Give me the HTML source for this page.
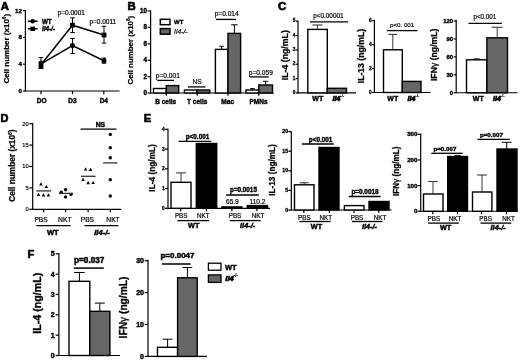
<!DOCTYPE html>
<html><head><meta charset="utf-8"><style>
html,body{margin:0;padding:0;background:#fff;}
svg{display:block;will-change:transform;}
text{font-family:"Liberation Sans", sans-serif;fill:#000;}
</style></head><body>
<svg width="520" height="361" viewBox="0 0 520 361">
<rect width="520" height="361" fill="#fff"/>
<text x="4.9" y="9.78" font-size="11.4" font-weight="bold" stroke="#000" stroke-width="0.68" text-anchor="middle">A</text>
<text transform="translate(8.6,48.7) rotate(-90)" font-size="8" font-weight="bold" stroke="#000" stroke-width="0.24" text-anchor="middle">Cell number (x10<tspan font-size="0.6em" dy="-0.55em">6</tspan><tspan dy="0.33em">)</tspan></text>
<line x1="25.4" y1="10" x2="25.4" y2="91.6" stroke="#000" stroke-width="1.2"/>
<line x1="23" y1="10.6" x2="25.4" y2="10.6" stroke="#000" stroke-width="1.2"/>
<text x="21.9" y="12.52" font-size="6.2" font-weight="bold" stroke="#000" stroke-width="0.37" text-anchor="end">12</text>
<line x1="23" y1="37.4" x2="25.4" y2="37.4" stroke="#000" stroke-width="1.2"/>
<text x="21.9" y="39.32" font-size="6.2" font-weight="bold" stroke="#000" stroke-width="0.37" text-anchor="end">8</text>
<line x1="23" y1="64.2" x2="25.4" y2="64.2" stroke="#000" stroke-width="1.2"/>
<text x="21.9" y="66.12" font-size="6.2" font-weight="bold" stroke="#000" stroke-width="0.37" text-anchor="end">4</text>
<line x1="23" y1="91" x2="25.4" y2="91" stroke="#000" stroke-width="1.2"/>
<text x="21.9" y="92.92" font-size="6.2" font-weight="bold" stroke="#000" stroke-width="0.37" text-anchor="end">0</text>
<line x1="24.8" y1="91" x2="119.6" y2="91" stroke="#000" stroke-width="1.2"/>
<line x1="41" y1="91" x2="41" y2="94.2" stroke="#000" stroke-width="1.2"/>
<line x1="72.5" y1="91" x2="72.5" y2="94.2" stroke="#000" stroke-width="1.2"/>
<line x1="103.8" y1="91" x2="103.8" y2="94.2" stroke="#000" stroke-width="1.2"/>
<text x="41.6" y="103.43" font-size="6.5" font-weight="bold" stroke="#000" stroke-width="0.39" text-anchor="middle">DO</text>
<text x="72.5" y="103.43" font-size="6.5" font-weight="bold" stroke="#000" stroke-width="0.39" text-anchor="middle">D3</text>
<text x="103.8" y="103.43" font-size="6.5" font-weight="bold" stroke="#000" stroke-width="0.39" text-anchor="middle">D4</text>
<line x1="27.8" y1="21.2" x2="37.6" y2="21.2" stroke="#000" stroke-width="1.5"/>
<circle cx="32.7" cy="21.2" r="2.3" fill="#000"/>
<line x1="27.8" y1="28.8" x2="37.6" y2="28.8" stroke="#000" stroke-width="1.5"/>
<rect x="30.4" y="26.6" width="4.6" height="4.4" fill="#000"/>
<text x="41.9" y="23.66" font-size="6.3" font-weight="bold" stroke="#000" stroke-width="0.38" text-anchor="start">WT</text>
<text x="41.9" y="30.89" font-size="6.4" font-weight="bold" stroke="#000" stroke-width="0.38" font-style="italic" text-anchor="start">Il4-/-</text>
<polyline points="41,63.8 72.5,45.6 104,60.8" fill="none" stroke="#000" stroke-width="1.5"/>
<polyline points="41,64.8 72.5,25.2 104,35" fill="none" stroke="#000" stroke-width="1.5"/>
<line x1="41" y1="57.6" x2="41" y2="68.5" stroke="#000" stroke-width="1"/>
<line x1="38.7" y1="57.6" x2="43.3" y2="57.6" stroke="#000" stroke-width="1"/>
<line x1="38.7" y1="68.5" x2="43.3" y2="68.5" stroke="#000" stroke-width="1"/>
<line x1="72.5" y1="17.8" x2="72.5" y2="32.6" stroke="#000" stroke-width="1"/>
<line x1="70.2" y1="17.8" x2="74.8" y2="17.8" stroke="#000" stroke-width="1"/>
<line x1="70.2" y1="32.6" x2="74.8" y2="32.6" stroke="#000" stroke-width="1"/>
<line x1="72.5" y1="38.5" x2="72.5" y2="53.5" stroke="#000" stroke-width="1"/>
<line x1="70.2" y1="38.5" x2="74.8" y2="38.5" stroke="#000" stroke-width="1"/>
<line x1="70.2" y1="53.5" x2="74.8" y2="53.5" stroke="#000" stroke-width="1"/>
<line x1="104" y1="26.3" x2="104" y2="43.1" stroke="#000" stroke-width="1"/>
<line x1="101.7" y1="26.3" x2="106.3" y2="26.3" stroke="#000" stroke-width="1"/>
<line x1="101.7" y1="43.1" x2="106.3" y2="43.1" stroke="#000" stroke-width="1"/>
<line x1="104" y1="58" x2="104" y2="63.2" stroke="#000" stroke-width="1"/>
<line x1="101.7" y1="58" x2="106.3" y2="58" stroke="#000" stroke-width="1"/>
<line x1="101.7" y1="63.2" x2="106.3" y2="63.2" stroke="#000" stroke-width="1"/>
<circle cx="41" cy="63.1" r="2.5" fill="#000"/>
<circle cx="72.5" cy="45.6" r="2.5" fill="#000"/>
<circle cx="104" cy="60.8" r="2.5" fill="#000"/>
<rect x="38.6" y="63.8" width="4.8" height="4.8" fill="#000"/>
<rect x="70.1" y="22.8" width="4.8" height="4.8" fill="#000"/>
<rect x="101.6" y="32.6" width="4.8" height="4.8" fill="#000"/>
<text x="71.3" y="15.23" font-size="6.5" stroke="#000" stroke-width="0.2" text-anchor="middle">p=0.0001</text>
<text x="102.8" y="24.03" font-size="6.5" stroke="#000" stroke-width="0.2" text-anchor="middle">p=0.0011</text>
<text x="131.6" y="9.78" font-size="11.4" font-weight="bold" stroke="#000" stroke-width="0.68" text-anchor="middle">B</text>
<text transform="translate(133,50.2) rotate(-90)" font-size="7.88" font-weight="bold" stroke="#000" stroke-width="0.24" text-anchor="middle">Cell number (x10<tspan font-size="0.6em" dy="-0.55em">6</tspan><tspan dy="0.33em">)</tspan></text>
<line x1="150.6" y1="10.2" x2="150.6" y2="93.6" stroke="#000" stroke-width="1.2"/>
<line x1="147.6" y1="11" x2="150.6" y2="11" stroke="#000" stroke-width="1.2"/>
<text x="147" y="12.96" font-size="6.3" font-weight="bold" stroke="#000" stroke-width="0.38" text-anchor="end">10</text>
<line x1="147.6" y1="27.4" x2="150.6" y2="27.4" stroke="#000" stroke-width="1.2"/>
<text x="147" y="29.36" font-size="6.3" font-weight="bold" stroke="#000" stroke-width="0.38" text-anchor="end">8</text>
<line x1="147.6" y1="43.8" x2="150.6" y2="43.8" stroke="#000" stroke-width="1.2"/>
<text x="147" y="45.76" font-size="6.3" font-weight="bold" stroke="#000" stroke-width="0.38" text-anchor="end">6</text>
<line x1="147.6" y1="60.2" x2="150.6" y2="60.2" stroke="#000" stroke-width="1.2"/>
<text x="147" y="62.16" font-size="6.3" font-weight="bold" stroke="#000" stroke-width="0.38" text-anchor="end">4</text>
<line x1="147.6" y1="76.6" x2="150.6" y2="76.6" stroke="#000" stroke-width="1.2"/>
<text x="147" y="78.56" font-size="6.3" font-weight="bold" stroke="#000" stroke-width="0.38" text-anchor="end">2</text>
<line x1="147.6" y1="93" x2="150.6" y2="93" stroke="#000" stroke-width="1.2"/>
<text x="147" y="94.96" font-size="6.3" font-weight="bold" stroke="#000" stroke-width="0.38" text-anchor="end">0</text>
<line x1="150" y1="93" x2="274" y2="93" stroke="#000" stroke-width="1.2"/>
<line x1="166.3" y1="93" x2="166.3" y2="95.8" stroke="#000" stroke-width="1.2"/>
<line x1="197.2" y1="93" x2="197.2" y2="95.8" stroke="#000" stroke-width="1.2"/>
<line x1="228" y1="93" x2="228" y2="95.8" stroke="#000" stroke-width="1.2"/>
<line x1="258.8" y1="93" x2="258.8" y2="95.8" stroke="#000" stroke-width="1.2"/>
<rect x="153.5" y="88.5" width="12.8" height="4.5" fill="#fff" stroke="#000" stroke-width="1.4"/>
<rect x="166.3" y="85.6" width="12.4" height="7.4" fill="#666" stroke="#000" stroke-width="1.4"/>
<rect x="184.4" y="90" width="12.5" height="3" fill="#fff" stroke="#000" stroke-width="1.4"/>
<rect x="196.9" y="90" width="12.8" height="3" fill="#666" stroke="#000" stroke-width="1.4"/>
<line x1="221.6" y1="49.4" x2="221.6" y2="46.3" stroke="#000" stroke-width="1"/>
<line x1="219.35" y1="46.3" x2="223.85" y2="46.3" stroke="#000" stroke-width="1"/>
<line x1="234.4" y1="33.4" x2="234.4" y2="24.8" stroke="#000" stroke-width="1"/>
<line x1="231.15" y1="24.8" x2="237.65" y2="24.8" stroke="#000" stroke-width="1"/>
<rect x="215.4" y="49.4" width="12.6" height="43.6" fill="#fff" stroke="#000" stroke-width="1.4"/>
<rect x="228" y="33.4" width="12.6" height="59.6" fill="#666" stroke="#000" stroke-width="1.4"/>
<line x1="252.4" y1="90" x2="252.4" y2="88.6" stroke="#000" stroke-width="1"/>
<line x1="250.15" y1="88.6" x2="254.65" y2="88.6" stroke="#000" stroke-width="1"/>
<line x1="265.6" y1="85" x2="265.6" y2="81.3" stroke="#000" stroke-width="1"/>
<line x1="262.85" y1="81.3" x2="268.35" y2="81.3" stroke="#000" stroke-width="1"/>
<rect x="246" y="90" width="12.8" height="3" fill="#fff" stroke="#000" stroke-width="1.4"/>
<rect x="258.8" y="85" width="13.7" height="8" fill="#666" stroke="#000" stroke-width="1.4"/>
<text x="165.7" y="103.73" font-size="6.5" font-weight="bold" stroke="#000" stroke-width="0.39" text-anchor="middle">B cells</text>
<text x="197.2" y="103.73" font-size="6.5" font-weight="bold" stroke="#000" stroke-width="0.39" text-anchor="middle">T cells</text>
<text x="227.7" y="103.73" font-size="6.5" font-weight="bold" stroke="#000" stroke-width="0.39" text-anchor="middle">Mac</text>
<text x="258.5" y="103.73" font-size="6.5" font-weight="bold" stroke="#000" stroke-width="0.39" text-anchor="middle">PMNs</text>
<text x="167.8" y="77.76" font-size="6.6" stroke="#000" stroke-width="0.2" text-anchor="middle">p=0.001</text>
<line x1="157.3" y1="80.4" x2="174" y2="80.4" stroke="#000" stroke-width="1.3"/>
<text x="197.2" y="84.26" font-size="6.6" stroke="#000" stroke-width="0.2" text-anchor="middle">NS</text>
<line x1="188" y1="86.9" x2="205.4" y2="86.9" stroke="#000" stroke-width="1.3"/>
<text x="226.7" y="15.86" font-size="6.6" stroke="#000" stroke-width="0.2" text-anchor="middle">p=0.014</text>
<line x1="216" y1="19.4" x2="236" y2="19.4" stroke="#000" stroke-width="1.3"/>
<text x="260.8" y="74.86" font-size="6.6" stroke="#000" stroke-width="0.2" text-anchor="middle">p=0.059</text>
<line x1="250" y1="76.9" x2="268.8" y2="76.9" stroke="#000" stroke-width="1.3"/>
<rect x="160.3" y="19.3" width="9.7" height="5.4" fill="#fff" stroke="#000" stroke-width="1.5"/>
<rect x="160.3" y="28.6" width="9.7" height="5.6" fill="#666" stroke="#000" stroke-width="1.5"/>
<text x="174" y="24.05" font-size="6" font-weight="bold" stroke="#000" stroke-width="0.36" text-anchor="start">WT</text>
<text x="174" y="33.83" font-size="6.8" stroke="#000" stroke-width="0.2" font-style="italic" text-anchor="start">Il4-/-</text>
<text x="282" y="9.98" font-size="11.4" font-weight="bold" stroke="#000" stroke-width="0.68" text-anchor="middle">C</text>
<text transform="translate(288.2,55.2) rotate(-90)" font-size="8.75" font-weight="bold" stroke="#000" stroke-width="0.26" text-anchor="middle">IL-4 (ng/mL)</text>
<line x1="298" y1="20.6" x2="298" y2="93.5" stroke="#000" stroke-width="1.2"/>
<line x1="295.8" y1="21.2" x2="298" y2="21.2" stroke="#000" stroke-width="1.2"/>
<text x="295.3" y="22.42" font-size="4.8" font-weight="bold" stroke="#000" stroke-width="0.29" text-anchor="end">5</text>
<line x1="295.8" y1="35.54" x2="298" y2="35.54" stroke="#000" stroke-width="1.2"/>
<text x="295.3" y="36.76" font-size="4.8" font-weight="bold" stroke="#000" stroke-width="0.29" text-anchor="end">4</text>
<line x1="295.8" y1="49.88" x2="298" y2="49.88" stroke="#000" stroke-width="1.2"/>
<text x="295.3" y="51.1" font-size="4.8" font-weight="bold" stroke="#000" stroke-width="0.29" text-anchor="end">3</text>
<line x1="295.8" y1="64.22" x2="298" y2="64.22" stroke="#000" stroke-width="1.2"/>
<text x="295.3" y="65.44" font-size="4.8" font-weight="bold" stroke="#000" stroke-width="0.29" text-anchor="end">2</text>
<line x1="295.8" y1="78.56" x2="298" y2="78.56" stroke="#000" stroke-width="1.2"/>
<text x="295.3" y="79.78" font-size="4.8" font-weight="bold" stroke="#000" stroke-width="0.29" text-anchor="end">1</text>
<line x1="295.8" y1="92.9" x2="298" y2="92.9" stroke="#000" stroke-width="1.2"/>
<text x="295.3" y="94.12" font-size="4.8" font-weight="bold" stroke="#000" stroke-width="0.29" text-anchor="end">0</text>
<line x1="297.4" y1="92.9" x2="356" y2="92.9" stroke="#000" stroke-width="1.2"/>
<line x1="317.5" y1="29.4" x2="317.5" y2="25" stroke="#4a4a4a" stroke-width="1.1"/>
<line x1="312.5" y1="25" x2="322.5" y2="25" stroke="#3a3a3a" stroke-width="1.1"/>
<rect x="307.8" y="29.4" width="19.5" height="63.5" fill="#fff" stroke="#000" stroke-width="1.4"/>
<rect x="327.3" y="88.3" width="19.2" height="4.6" fill="#666" stroke="#000" stroke-width="1.4"/>
<text x="328.4" y="18.29" font-size="6.4" stroke="#000" stroke-width="0.19" text-anchor="middle">p&lt;0.00001</text>
<line x1="310" y1="21.9" x2="348.1" y2="21.9" stroke="#000" stroke-width="1.3"/>
<text x="317.8" y="101.11" font-size="7" font-weight="bold" stroke="#000" stroke-width="0.42" text-anchor="middle">WT</text>
<text x="332.5" y="101.11" font-size="7" font-weight="bold" stroke="#000" stroke-width="0.42" text-anchor="start"><tspan font-style="italic" stroke-width="0.7">Il4</tspan><tspan font-size="0.6em" dy="-0.9em" stroke-width="0.2" fill="#222" stroke="#222">-/-</tspan></text>
<text transform="translate(363.8,56.1) rotate(-90)" font-size="8.67" font-weight="bold" stroke="#000" stroke-width="0.26" text-anchor="middle">IL-13 (ng/mL)</text>
<line x1="374.4" y1="19.8" x2="374.4" y2="93.1" stroke="#000" stroke-width="1.2"/>
<line x1="372.2" y1="20.62" x2="374.4" y2="20.62" stroke="#000" stroke-width="1.2"/>
<text x="371.7" y="21.84" font-size="4.8" font-weight="bold" stroke="#000" stroke-width="0.29" text-anchor="end">6</text>
<line x1="372.2" y1="44.58" x2="374.4" y2="44.58" stroke="#000" stroke-width="1.2"/>
<text x="371.7" y="45.8" font-size="4.8" font-weight="bold" stroke="#000" stroke-width="0.29" text-anchor="end">4</text>
<line x1="372.2" y1="68.54" x2="374.4" y2="68.54" stroke="#000" stroke-width="1.2"/>
<text x="371.7" y="69.76" font-size="4.8" font-weight="bold" stroke="#000" stroke-width="0.29" text-anchor="end">2</text>
<line x1="372.2" y1="92.5" x2="374.4" y2="92.5" stroke="#000" stroke-width="1.2"/>
<text x="371.7" y="93.72" font-size="4.8" font-weight="bold" stroke="#000" stroke-width="0.29" text-anchor="end">0</text>
<line x1="373.8" y1="92.5" x2="430.6" y2="92.5" stroke="#000" stroke-width="1.2"/>
<line x1="392.8" y1="49.8" x2="392.8" y2="34.4" stroke="#4a4a4a" stroke-width="1.1"/>
<line x1="388.4" y1="34.4" x2="397.2" y2="34.4" stroke="#3a3a3a" stroke-width="1.1"/>
<rect x="383.5" y="49.8" width="18.8" height="42.7" fill="#fff" stroke="#000" stroke-width="1.4"/>
<rect x="402.3" y="81.4" width="18.7" height="11.1" fill="#666" stroke="#000" stroke-width="1.4"/>
<text x="402.1" y="27.12" font-size="6.2" stroke="#000" stroke-width="0.19" text-anchor="middle">p&lt;0. 001</text>
<line x1="386.9" y1="30.6" x2="417.5" y2="30.6" stroke="#000" stroke-width="1.3"/>
<text x="392.8" y="100.91" font-size="7" font-weight="bold" stroke="#000" stroke-width="0.42" text-anchor="middle">WT</text>
<text x="407.5" y="100.91" font-size="7" font-weight="bold" stroke="#000" stroke-width="0.42" text-anchor="start"><tspan font-style="italic" stroke-width="0.7">Il4</tspan><tspan font-size="0.6em" dy="-0.9em" stroke-width="0.2" fill="#222" stroke="#222">-/-</tspan></text>
<text transform="translate(436.7,54.8) rotate(-90)" font-size="8.68" font-weight="bold" stroke="#000" stroke-width="0.26" text-anchor="middle">IFN<tspan font-weight="normal">&#947;</tspan> (ng/mL)</text>
<line x1="456.2" y1="19.8" x2="456.2" y2="93.35" stroke="#000" stroke-width="1.2"/>
<line x1="453.7" y1="20.99" x2="456.2" y2="20.99" stroke="#000" stroke-width="1.2"/>
<text x="453.2" y="22.84" font-size="6" font-weight="bold" stroke="#000" stroke-width="0.36" text-anchor="end">120</text>
<line x1="453.7" y1="38.93" x2="456.2" y2="38.93" stroke="#000" stroke-width="1.2"/>
<text x="453.2" y="40.78" font-size="6" font-weight="bold" stroke="#000" stroke-width="0.36" text-anchor="end">90</text>
<line x1="453.7" y1="56.87" x2="456.2" y2="56.87" stroke="#000" stroke-width="1.2"/>
<text x="453.2" y="58.72" font-size="6" font-weight="bold" stroke="#000" stroke-width="0.36" text-anchor="end">60</text>
<line x1="453.7" y1="74.81" x2="456.2" y2="74.81" stroke="#000" stroke-width="1.2"/>
<text x="453.2" y="76.66" font-size="6" font-weight="bold" stroke="#000" stroke-width="0.36" text-anchor="end">30</text>
<line x1="453.7" y1="92.75" x2="456.2" y2="92.75" stroke="#000" stroke-width="1.2"/>
<text x="453.2" y="94.6" font-size="6" font-weight="bold" stroke="#000" stroke-width="0.36" text-anchor="end">0</text>
<line x1="455.6" y1="92.75" x2="517.5" y2="92.75" stroke="#000" stroke-width="1.2"/>
<line x1="476.7" y1="59.8" x2="476.7" y2="58.8" stroke="#4a4a4a" stroke-width="1.1"/>
<line x1="473.7" y1="58.8" x2="479.7" y2="58.8" stroke="#3a3a3a" stroke-width="1.1"/>
<line x1="497.2" y1="37.8" x2="497.2" y2="27.3" stroke="#4a4a4a" stroke-width="1.1"/>
<line x1="491.7" y1="27.3" x2="502.7" y2="27.3" stroke="#3a3a3a" stroke-width="1.1"/>
<rect x="466.5" y="59.8" width="20.4" height="32.95" fill="#fff" stroke="#000" stroke-width="1.4"/>
<rect x="486.9" y="37.8" width="20.6" height="54.95" fill="#666" stroke="#000" stroke-width="1.4"/>
<text x="484.9" y="19.26" font-size="6.3" stroke="#000" stroke-width="0.19" text-anchor="middle">p&lt;0.001</text>
<line x1="468.5" y1="23.4" x2="501.9" y2="23.4" stroke="#000" stroke-width="1.3"/>
<text x="478.3" y="100.91" font-size="7" font-weight="bold" stroke="#000" stroke-width="0.42" text-anchor="middle">WT</text>
<text x="493" y="100.91" font-size="7" font-weight="bold" stroke="#000" stroke-width="0.42" text-anchor="start"><tspan font-style="italic" stroke-width="0.7">Il4</tspan><tspan font-size="0.6em" dy="-0.9em" stroke-width="0.2" fill="#222" stroke="#222">-/-</tspan></text>
<text x="4.6" y="122.04" font-size="11" font-weight="bold" stroke="#000" stroke-width="0.66" text-anchor="middle">D</text>
<text transform="translate(14.6,165.6) rotate(-90)" font-size="8.3" font-weight="bold" stroke="#000" stroke-width="0.25" text-anchor="middle">Cell number (x10<tspan font-size="0.6em" dy="-0.55em">6</tspan><tspan dy="0.33em">)</tspan></text>
<line x1="32.7" y1="123.1" x2="32.7" y2="209.9" stroke="#000" stroke-width="1.2"/>
<line x1="29.3" y1="123.7" x2="32.7" y2="123.7" stroke="#000" stroke-width="1.2"/>
<text x="28.7" y="125.54" font-size="5.7" stroke="#000" stroke-width="0.17" text-anchor="end">20</text>
<line x1="29.3" y1="145.1" x2="32.7" y2="145.1" stroke="#000" stroke-width="1.2"/>
<text x="28.7" y="146.94" font-size="5.7" stroke="#000" stroke-width="0.17" text-anchor="end">15</text>
<line x1="29.3" y1="166.5" x2="32.7" y2="166.5" stroke="#000" stroke-width="1.2"/>
<text x="28.7" y="168.34" font-size="5.7" stroke="#000" stroke-width="0.17" text-anchor="end">10</text>
<line x1="29.3" y1="187.9" x2="32.7" y2="187.9" stroke="#000" stroke-width="1.2"/>
<text x="28.7" y="189.74" font-size="5.7" stroke="#000" stroke-width="0.17" text-anchor="end">5</text>
<line x1="29.3" y1="209.3" x2="32.7" y2="209.3" stroke="#000" stroke-width="1.2"/>
<text x="28.7" y="211.14" font-size="5.7" stroke="#000" stroke-width="0.17" text-anchor="end">0</text>
<line x1="32.1" y1="209.3" x2="121.3" y2="209.3" stroke="#000" stroke-width="1.2"/>
<line x1="43.7" y1="209.3" x2="43.7" y2="212.3" stroke="#000" stroke-width="1.2"/>
<line x1="65.6" y1="209.3" x2="65.6" y2="212.3" stroke="#000" stroke-width="1.2"/>
<line x1="88.1" y1="209.3" x2="88.1" y2="212.3" stroke="#000" stroke-width="1.2"/>
<line x1="110.3" y1="209.3" x2="110.3" y2="212.3" stroke="#000" stroke-width="1.2"/>
<text x="41.1" y="222.2" font-size="6.7" stroke="#000" stroke-width="0.2" text-anchor="middle">PBS</text>
<text x="64.8" y="222.2" font-size="6.7" stroke="#000" stroke-width="0.2" text-anchor="middle">NKT</text>
<text x="87.4" y="222.2" font-size="6.7" stroke="#000" stroke-width="0.2" text-anchor="middle">PBS</text>
<text x="113" y="222.2" font-size="6.7" stroke="#000" stroke-width="0.2" text-anchor="middle">NKT</text>
<line x1="36.3" y1="225.6" x2="70.6" y2="225.6" stroke="#000" stroke-width="1.3"/>
<line x1="84.4" y1="225.6" x2="118.5" y2="225.6" stroke="#000" stroke-width="1.3"/>
<text x="52.8" y="234.92" font-size="7.6" font-weight="bold" stroke="#000" stroke-width="0.46" text-anchor="middle">WT</text>
<text x="102" y="234.92" font-size="7.6" font-weight="bold" stroke="#000" stroke-width="0.46" font-style="italic" text-anchor="middle">Il4-/-</text>
<text x="100.4" y="126.83" font-size="6.8" font-weight="bold" stroke="#000" stroke-width="0.41" text-anchor="middle">NS</text>
<line x1="80.6" y1="129.1" x2="116.5" y2="129.1" stroke="#000" stroke-width="1.3"/>
<polygon points="41,182.18 39.2,185.42 42.8,185.42" fill="#000"/>
<polygon points="46.3,184.88 44.5,188.12 48.1,188.12" fill="#000"/>
<polygon points="38.5,192.78 36.7,196.02 40.3,196.02" fill="#000"/>
<polygon points="43.5,193.18 41.7,196.42 45.3,196.42" fill="#000"/>
<polygon points="48.5,193.18 46.7,196.42 50.3,196.42" fill="#000"/>
<line x1="36.3" y1="190.9" x2="51" y2="190.9" stroke="#333" stroke-width="1.3"/>
<circle cx="61.3" cy="192.3" r="1.7" fill="#000"/>
<circle cx="65.6" cy="189.8" r="1.7" fill="#000"/>
<circle cx="71" cy="194.4" r="1.7" fill="#000"/>
<circle cx="65.6" cy="196.9" r="1.7" fill="#000"/>
<line x1="58.8" y1="193.4" x2="73.1" y2="193.4" stroke="#333" stroke-width="1.3"/>
<polygon points="85.6,167.18 83.8,170.42 87.4,170.42" fill="#000"/>
<polygon points="90.6,167.78 88.8,171.02 92.4,171.02" fill="#000"/>
<polygon points="83.1,177.78 81.3,181.02 84.9,181.02" fill="#000"/>
<polygon points="88.1,181.08 86.3,184.32 89.9,184.32" fill="#000"/>
<polygon points="93.1,180.88 91.3,184.12 94.9,184.12" fill="#000"/>
<line x1="81" y1="176.3" x2="95.6" y2="176.3" stroke="#333" stroke-width="1.3"/>
<circle cx="110.3" cy="134.4" r="1.7" fill="#000"/>
<circle cx="110.3" cy="147.8" r="1.7" fill="#000"/>
<circle cx="110.3" cy="157.8" r="1.7" fill="#000"/>
<circle cx="110.3" cy="179.8" r="1.7" fill="#000"/>
<circle cx="110.3" cy="196" r="1.7" fill="#000"/>
<line x1="103.1" y1="162.9" x2="117.5" y2="162.9" stroke="#333" stroke-width="1.3"/>
<text x="147.6" y="122.31" font-size="11.2" font-weight="bold" stroke="#000" stroke-width="0.67" text-anchor="middle">E</text>
<text transform="translate(155,167.9) rotate(-90)" font-size="8.3" font-weight="bold" stroke="#000" stroke-width="0.25" text-anchor="middle">IL-4 (ng/mL)</text>
<line x1="168" y1="128.8" x2="168" y2="208.9" stroke="#000" stroke-width="1.2"/>
<line x1="165" y1="129.3" x2="168" y2="129.3" stroke="#000" stroke-width="1.2"/>
<text x="164.6" y="130.82" font-size="4.8" font-weight="bold" stroke="#000" stroke-width="0.29" text-anchor="end">4</text>
<line x1="165" y1="149.05" x2="168" y2="149.05" stroke="#000" stroke-width="1.2"/>
<text x="164.6" y="150.57" font-size="4.8" font-weight="bold" stroke="#000" stroke-width="0.29" text-anchor="end">3</text>
<line x1="165" y1="168.8" x2="168" y2="168.8" stroke="#000" stroke-width="1.2"/>
<text x="164.6" y="170.32" font-size="4.8" font-weight="bold" stroke="#000" stroke-width="0.29" text-anchor="end">2</text>
<line x1="165" y1="188.55" x2="168" y2="188.55" stroke="#000" stroke-width="1.2"/>
<text x="164.6" y="190.07" font-size="4.8" font-weight="bold" stroke="#000" stroke-width="0.29" text-anchor="end">1</text>
<line x1="165" y1="208.3" x2="168" y2="208.3" stroke="#000" stroke-width="1.2"/>
<text x="164.6" y="209.82" font-size="4.8" font-weight="bold" stroke="#000" stroke-width="0.29" text-anchor="end">0</text>
<line x1="167.4" y1="208.3" x2="270" y2="208.3" stroke="#000" stroke-width="1.2"/>
<line x1="180.8" y1="208.3" x2="180.8" y2="211.3" stroke="#000" stroke-width="1.2"/>
<line x1="206.5" y1="208.3" x2="206.5" y2="211.3" stroke="#000" stroke-width="1.2"/>
<line x1="231.9" y1="208.3" x2="231.9" y2="211.3" stroke="#000" stroke-width="1.2"/>
<line x1="256.9" y1="208.3" x2="256.9" y2="211.3" stroke="#000" stroke-width="1.2"/>
<line x1="181" y1="182.3" x2="181" y2="172.9" stroke="#4a4a4a" stroke-width="1.1"/>
<line x1="176" y1="172.9" x2="186" y2="172.9" stroke="#3a3a3a" stroke-width="1.1"/>
<rect x="171" y="182.3" width="20" height="26" fill="#fff" stroke="#000" stroke-width="1.4"/>
<rect x="196.3" y="143.5" width="20.4" height="64.8" fill="#000" stroke="#000" stroke-width="1.4"/>
<rect x="221.9" y="206.9" width="20" height="1.4" fill="#fff" stroke="#000" stroke-width="1.4"/>
<rect x="247.3" y="205.6" width="20.2" height="2.7" fill="#000" stroke="#000" stroke-width="1.4"/>
<text x="197.5" y="139.19" font-size="6.4" font-weight="bold" stroke="#000" stroke-width="0.38" text-anchor="middle">p&lt;0.001</text>
<line x1="178.5" y1="141.3" x2="211.3" y2="141.3" stroke="#000" stroke-width="1.3"/>
<text x="243.5" y="192.06" font-size="6.3" font-weight="bold" stroke="#000" stroke-width="0.38" text-anchor="middle">p=0.0015</text>
<line x1="226" y1="195" x2="258.8" y2="195" stroke="#000" stroke-width="1.3"/>
<text x="232.4" y="204.23" font-size="6.5" stroke="#000" stroke-width="0.2" text-anchor="middle">65.9</text>
<text x="257.5" y="204.23" font-size="6.5" stroke="#000" stroke-width="0.2" text-anchor="middle">110.2</text>
<text x="181.2" y="218.26" font-size="6.3" stroke="#000" stroke-width="0.19" text-anchor="middle">PBS</text>
<text x="203.2" y="218.26" font-size="6.3" stroke="#000" stroke-width="0.19" text-anchor="middle">NKT</text>
<text x="235" y="218.26" font-size="6.3" stroke="#000" stroke-width="0.19" text-anchor="middle">PBS</text>
<text x="258" y="218.26" font-size="6.3" stroke="#000" stroke-width="0.19" text-anchor="middle">NKT</text>
<line x1="177.3" y1="220.6" x2="209" y2="220.6" stroke="#000" stroke-width="1.3"/>
<line x1="229.8" y1="220.6" x2="260.6" y2="220.6" stroke="#000" stroke-width="1.3"/>
<text x="193.8" y="227.81" font-size="7.3" font-weight="bold" stroke="#000" stroke-width="0.44" text-anchor="middle">WT</text>
<text x="247.6" y="228.21" font-size="7.3" font-weight="bold" stroke="#000" stroke-width="0.44" font-style="italic" text-anchor="middle">Il4-/-</text>
<text transform="translate(275.3,170) rotate(-90)" font-size="8.2" font-weight="bold" stroke="#000" stroke-width="0.25" text-anchor="middle">IL-13 (ng/mL)</text>
<line x1="291.3" y1="131.5" x2="291.3" y2="210.6" stroke="#000" stroke-width="1.2"/>
<line x1="288.3" y1="131.6" x2="291.3" y2="131.6" stroke="#000" stroke-width="1.2"/>
<text x="288.1" y="133.26" font-size="5.2" font-weight="bold" stroke="#000" stroke-width="0.31" text-anchor="end">20</text>
<line x1="288.3" y1="151.2" x2="291.3" y2="151.2" stroke="#000" stroke-width="1.2"/>
<text x="288.1" y="152.86" font-size="5.2" font-weight="bold" stroke="#000" stroke-width="0.31" text-anchor="end">15</text>
<line x1="288.3" y1="170.8" x2="291.3" y2="170.8" stroke="#000" stroke-width="1.2"/>
<text x="288.1" y="172.46" font-size="5.2" font-weight="bold" stroke="#000" stroke-width="0.31" text-anchor="end">10</text>
<line x1="288.3" y1="190.4" x2="291.3" y2="190.4" stroke="#000" stroke-width="1.2"/>
<text x="288.1" y="192.06" font-size="5.2" font-weight="bold" stroke="#000" stroke-width="0.31" text-anchor="end">5</text>
<line x1="288.3" y1="210" x2="291.3" y2="210" stroke="#000" stroke-width="1.2"/>
<text x="288.1" y="211.66" font-size="5.2" font-weight="bold" stroke="#000" stroke-width="0.31" text-anchor="end">0</text>
<line x1="290.7" y1="210" x2="391.5" y2="210" stroke="#000" stroke-width="1.2"/>
<line x1="303.8" y1="210" x2="303.8" y2="213" stroke="#000" stroke-width="1.2"/>
<line x1="329.4" y1="210" x2="329.4" y2="213" stroke="#000" stroke-width="1.2"/>
<line x1="354" y1="210" x2="354" y2="213" stroke="#000" stroke-width="1.2"/>
<line x1="378.8" y1="210" x2="378.8" y2="213" stroke="#000" stroke-width="1.2"/>
<line x1="304.2" y1="184.8" x2="304.2" y2="182.8" stroke="#4a4a4a" stroke-width="1.1"/>
<line x1="299.7" y1="182.8" x2="308.7" y2="182.8" stroke="#3a3a3a" stroke-width="1.1"/>
<rect x="294.5" y="184.8" width="19.5" height="25.2" fill="#fff" stroke="#000" stroke-width="1.4"/>
<rect x="319" y="147.5" width="20" height="62.5" fill="#000" stroke="#000" stroke-width="1.4"/>
<rect x="344.4" y="205.6" width="19.6" height="4.4" fill="#fff" stroke="#000" stroke-width="1.4"/>
<rect x="369" y="201.5" width="20" height="8.5" fill="#000" stroke="#000" stroke-width="1.4"/>
<text x="320.6" y="141.69" font-size="6.4" font-weight="bold" stroke="#000" stroke-width="0.38" text-anchor="middle">p&lt;0.001</text>
<line x1="301.9" y1="144" x2="333.8" y2="144" stroke="#000" stroke-width="1.3"/>
<text x="365" y="194.19" font-size="6.4" font-weight="bold" stroke="#000" stroke-width="0.38" text-anchor="middle">p=0.0018</text>
<line x1="348.8" y1="196.5" x2="380.6" y2="196.5" stroke="#000" stroke-width="1.3"/>
<text x="304.4" y="219.66" font-size="6.3" stroke="#000" stroke-width="0.19" text-anchor="middle">PBS</text>
<text x="325.8" y="219.66" font-size="6.3" stroke="#000" stroke-width="0.19" text-anchor="middle">NKT</text>
<text x="357" y="219.66" font-size="6.3" stroke="#000" stroke-width="0.19" text-anchor="middle">PBS</text>
<text x="380" y="219.66" font-size="6.3" stroke="#000" stroke-width="0.19" text-anchor="middle">NKT</text>
<line x1="299.4" y1="221.5" x2="330.6" y2="221.5" stroke="#000" stroke-width="1.3"/>
<line x1="351.9" y1="221.5" x2="382.5" y2="221.5" stroke="#000" stroke-width="1.3"/>
<text x="316.5" y="228.91" font-size="7.3" font-weight="bold" stroke="#000" stroke-width="0.44" text-anchor="middle">WT</text>
<text x="369.4" y="228.91" font-size="7.3" font-weight="bold" stroke="#000" stroke-width="0.44" font-style="italic" text-anchor="middle">Il4-/-</text>
<text transform="translate(398.5,171.2) rotate(-90)" font-size="8.2" font-weight="bold" stroke="#000" stroke-width="0.25" text-anchor="middle">IFN<tspan font-weight="normal">&#947;</tspan> (ng/mL)</text>
<line x1="420.7" y1="133.5" x2="420.7" y2="211.85" stroke="#000" stroke-width="1.2"/>
<line x1="417.7" y1="134.3" x2="420.7" y2="134.3" stroke="#000" stroke-width="1.2"/>
<text x="417.5" y="136.22" font-size="6.2" font-weight="bold" stroke="#000" stroke-width="0.37" text-anchor="end">300</text>
<line x1="417.7" y1="159.95" x2="420.7" y2="159.95" stroke="#000" stroke-width="1.2"/>
<text x="417.5" y="161.87" font-size="6.2" font-weight="bold" stroke="#000" stroke-width="0.37" text-anchor="end">200</text>
<line x1="417.7" y1="185.6" x2="420.7" y2="185.6" stroke="#000" stroke-width="1.2"/>
<text x="417.5" y="187.52" font-size="6.2" font-weight="bold" stroke="#000" stroke-width="0.37" text-anchor="end">100</text>
<line x1="417.7" y1="211.25" x2="420.7" y2="211.25" stroke="#000" stroke-width="1.2"/>
<text x="417.5" y="213.17" font-size="6.2" font-weight="bold" stroke="#000" stroke-width="0.37" text-anchor="end">0</text>
<line x1="420.1" y1="211.25" x2="518" y2="211.25" stroke="#000" stroke-width="1.2"/>
<line x1="432.8" y1="211.25" x2="432.8" y2="214.25" stroke="#000" stroke-width="1.2"/>
<line x1="457.5" y1="211.25" x2="457.5" y2="214.25" stroke="#000" stroke-width="1.2"/>
<line x1="481.5" y1="211.25" x2="481.5" y2="214.25" stroke="#000" stroke-width="1.2"/>
<line x1="506.5" y1="211.25" x2="506.5" y2="214.25" stroke="#000" stroke-width="1.2"/>
<line x1="433" y1="194" x2="433" y2="181.5" stroke="#4a4a4a" stroke-width="1.1"/>
<line x1="428.2" y1="181.5" x2="437.8" y2="181.5" stroke="#3a3a3a" stroke-width="1.1"/>
<line x1="457.6" y1="156.5" x2="457.6" y2="155.6" stroke="#000" stroke-width="1"/>
<line x1="454.6" y1="155.6" x2="460.6" y2="155.6" stroke="#000" stroke-width="1"/>
<line x1="482" y1="192" x2="482" y2="175" stroke="#4a4a4a" stroke-width="1.1"/>
<line x1="477.2" y1="175" x2="486.8" y2="175" stroke="#3a3a3a" stroke-width="1.1"/>
<line x1="506.7" y1="149" x2="506.7" y2="142.3" stroke="#000" stroke-width="1"/>
<line x1="501.7" y1="142.3" x2="511.7" y2="142.3" stroke="#000" stroke-width="1"/>
<rect x="423.5" y="194" width="19.5" height="17.25" fill="#fff" stroke="#000" stroke-width="1.4"/>
<rect x="447.7" y="156.5" width="19.8" height="54.75" fill="#000" stroke="#000" stroke-width="1.4"/>
<rect x="472.5" y="192" width="19.4" height="19.25" fill="#fff" stroke="#000" stroke-width="1.4"/>
<rect x="497" y="149" width="20" height="62.25" fill="#000" stroke="#000" stroke-width="1.4"/>
<text x="444.9" y="150.62" font-size="6.2" font-weight="bold" stroke="#000" stroke-width="0.37" text-anchor="middle">p=0.007</text>
<line x1="431.3" y1="153.3" x2="462.8" y2="153.3" stroke="#000" stroke-width="1.3"/>
<text x="491.4" y="136.72" font-size="6.2" font-weight="bold" stroke="#000" stroke-width="0.37" text-anchor="middle">p=0.007</text>
<line x1="477.5" y1="139.4" x2="509.8" y2="139.4" stroke="#000" stroke-width="1.3"/>
<text x="433.8" y="220.86" font-size="6.3" stroke="#000" stroke-width="0.19" text-anchor="middle">PBS</text>
<text x="455" y="220.86" font-size="6.3" stroke="#000" stroke-width="0.19" text-anchor="middle">NKT</text>
<text x="485.6" y="220.86" font-size="6.3" stroke="#000" stroke-width="0.19" text-anchor="middle">PBS</text>
<text x="508.5" y="220.86" font-size="6.3" stroke="#000" stroke-width="0.19" text-anchor="middle">NKT</text>
<line x1="428.1" y1="223.1" x2="458.8" y2="223.1" stroke="#000" stroke-width="1.3"/>
<line x1="480.6" y1="223.1" x2="511.3" y2="223.1" stroke="#000" stroke-width="1.3"/>
<text x="445.6" y="230.41" font-size="7.3" font-weight="bold" stroke="#000" stroke-width="0.44" text-anchor="middle">WT</text>
<text x="498.1" y="230.41" font-size="7.3" font-weight="bold" stroke="#000" stroke-width="0.44" font-style="italic" text-anchor="middle">Il4-/-</text>
<text x="31" y="258.41" font-size="11.2" font-weight="bold" stroke="#000" stroke-width="0.67" text-anchor="middle">F</text>
<text transform="translate(41.2,303.2) rotate(-90)" font-size="10.67" font-weight="bold" stroke="#000" stroke-width="0.32" text-anchor="middle">IL-4 (ng/mL)</text>
<line x1="58.9" y1="253.1" x2="58.9" y2="356.1" stroke="#000" stroke-width="1.2"/>
<line x1="55.6" y1="253.75" x2="58.9" y2="253.75" stroke="#000" stroke-width="1.2"/>
<text x="54.6" y="256.26" font-size="7" font-weight="bold" stroke="#000" stroke-width="0.42" text-anchor="end">5</text>
<line x1="55.6" y1="274.1" x2="58.9" y2="274.1" stroke="#000" stroke-width="1.2"/>
<text x="54.6" y="276.61" font-size="7" font-weight="bold" stroke="#000" stroke-width="0.42" text-anchor="end">4</text>
<line x1="55.6" y1="294.45" x2="58.9" y2="294.45" stroke="#000" stroke-width="1.2"/>
<text x="54.6" y="296.96" font-size="7" font-weight="bold" stroke="#000" stroke-width="0.42" text-anchor="end">3</text>
<line x1="55.6" y1="314.8" x2="58.9" y2="314.8" stroke="#000" stroke-width="1.2"/>
<text x="54.6" y="317.31" font-size="7" font-weight="bold" stroke="#000" stroke-width="0.42" text-anchor="end">2</text>
<line x1="55.6" y1="335.15" x2="58.9" y2="335.15" stroke="#000" stroke-width="1.2"/>
<text x="54.6" y="337.66" font-size="7" font-weight="bold" stroke="#000" stroke-width="0.42" text-anchor="end">1</text>
<line x1="55.6" y1="355.5" x2="58.9" y2="355.5" stroke="#000" stroke-width="1.2"/>
<text x="54.6" y="358.01" font-size="7" font-weight="bold" stroke="#000" stroke-width="0.42" text-anchor="end">0</text>
<line x1="58.3" y1="355.5" x2="120" y2="355.5" stroke="#000" stroke-width="1.2"/>
<line x1="79.4" y1="281.3" x2="79.4" y2="272.5" stroke="#000" stroke-width="1"/>
<line x1="74.1" y1="272.5" x2="84.7" y2="272.5" stroke="#000" stroke-width="1"/>
<line x1="99.8" y1="311.3" x2="99.8" y2="303.1" stroke="#000" stroke-width="1"/>
<line x1="94.8" y1="303.1" x2="104.8" y2="303.1" stroke="#000" stroke-width="1"/>
<rect x="69" y="281.3" width="20.8" height="74.2" fill="#fff" stroke="#000" stroke-width="1.4"/>
<rect x="89.8" y="311.3" width="20.1" height="44.2" fill="#666" stroke="#000" stroke-width="1.4"/>
<text x="89.2" y="263.34" font-size="8.2" font-weight="bold" stroke="#000" stroke-width="0.49" text-anchor="middle">p=0.037</text>
<line x1="73.8" y1="268.1" x2="103.8" y2="268.1" stroke="#000" stroke-width="1.5"/>
<text transform="translate(126.9,307.5) rotate(-90)" font-size="10.23" font-weight="bold" stroke="#000" stroke-width="0.31" text-anchor="middle">IFN<tspan font-weight="normal">&#947;</tspan> (ng/mL)</text>
<line x1="148" y1="259.8" x2="148" y2="357" stroke="#000" stroke-width="1.2"/>
<line x1="144.7" y1="260.7" x2="148" y2="260.7" stroke="#000" stroke-width="1.2"/>
<text x="144" y="263.21" font-size="7" font-weight="bold" stroke="#000" stroke-width="0.42" text-anchor="end">30</text>
<line x1="144.7" y1="292.6" x2="148" y2="292.6" stroke="#000" stroke-width="1.2"/>
<text x="144" y="295.11" font-size="7" font-weight="bold" stroke="#000" stroke-width="0.42" text-anchor="end">20</text>
<line x1="144.7" y1="324.5" x2="148" y2="324.5" stroke="#000" stroke-width="1.2"/>
<text x="144" y="327.01" font-size="7" font-weight="bold" stroke="#000" stroke-width="0.42" text-anchor="end">10</text>
<line x1="144.7" y1="356.4" x2="148" y2="356.4" stroke="#000" stroke-width="1.2"/>
<text x="144" y="358.91" font-size="7" font-weight="bold" stroke="#000" stroke-width="0.42" text-anchor="end">0</text>
<line x1="147.4" y1="356.4" x2="207" y2="356.4" stroke="#000" stroke-width="1.2"/>
<line x1="167.6" y1="347.3" x2="167.6" y2="339.2" stroke="#000" stroke-width="1"/>
<line x1="162.6" y1="339.2" x2="172.6" y2="339.2" stroke="#000" stroke-width="1"/>
<line x1="187.4" y1="277.8" x2="187.4" y2="267.5" stroke="#000" stroke-width="1"/>
<line x1="182.5" y1="267.5" x2="192.3" y2="267.5" stroke="#000" stroke-width="1"/>
<rect x="157.5" y="347.3" width="20.1" height="9.1" fill="#fff" stroke="#000" stroke-width="1.4"/>
<rect x="177.6" y="277.8" width="19.6" height="78.6" fill="#666" stroke="#000" stroke-width="1.4"/>
<text x="177.5" y="258.46" font-size="8" font-weight="bold" stroke="#000" stroke-width="0.48" text-anchor="middle">p=0.0047</text>
<line x1="161.9" y1="264" x2="190.6" y2="264" stroke="#000" stroke-width="1.5"/>
<rect x="208.4" y="263.2" width="12.6" height="7" fill="#fff" stroke="#000" stroke-width="1.3"/>
<rect x="208.4" y="274.9" width="12.6" height="7.5" fill="#666" stroke="#000" stroke-width="1.3"/>
<text x="225" y="269.79" font-size="7.5" font-weight="bold" stroke="#000" stroke-width="0.45" text-anchor="start">WT</text>
<text x="225.3" y="281.08" font-size="7.5" font-weight="bold" stroke="#000" stroke-width="0.45" text-anchor="start"><tspan font-style="italic" stroke-width="0.7">Il4</tspan><tspan font-size="0.6em" dy="-0.9em" stroke-width="0.2" fill="#222" stroke="#222">-/-</tspan></text>
</svg>
</body></html>
